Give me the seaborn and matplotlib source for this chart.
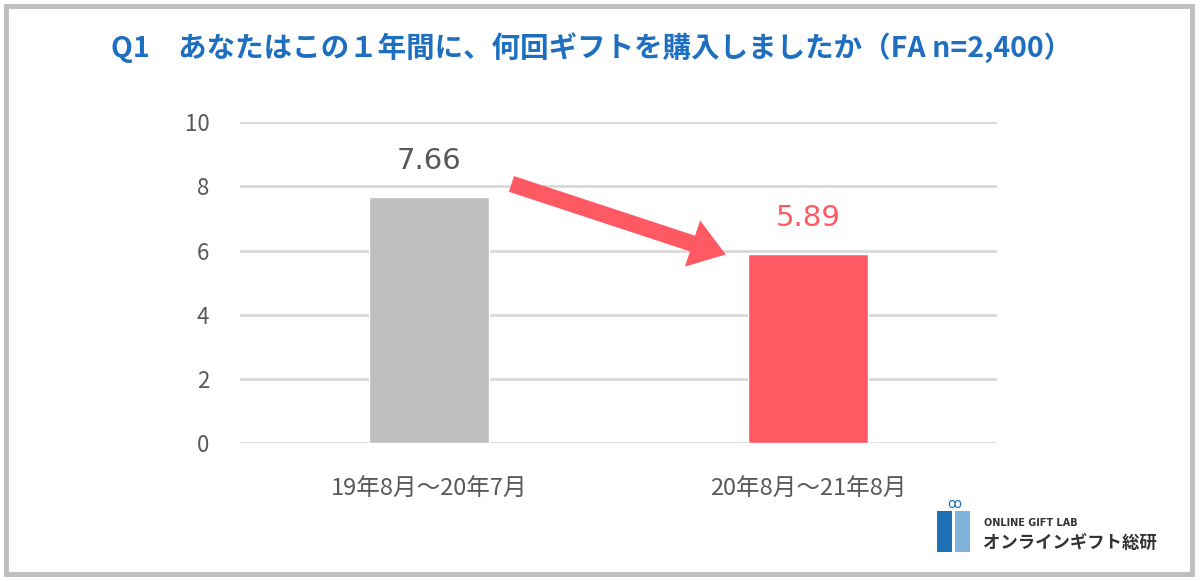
import matplotlib
matplotlib.use("Agg")
import matplotlib.pyplot as plt
import seaborn as sns
import pandas as pd
from matplotlib.patches import Rectangle

categories = ["19年8月～20年7月", "20年8月～21年8月"]
values = [7.66, 5.89]
value_labels = ["7.66", "5.89"]
yticks = [0, 2, 4, 6, 8, 10]
title = "Q1　あなたはこの１年間に、何回ギフトを購入しましたか（FA n=2,400）"

bar_colors = ["#BFBFBF", "#FF5A64"]
label_colors = ["#595959", "#FF5A64"]

sns.set_theme(style="white")
plt.rcParams['font.family'] = ['Noto Sans CJK JP', 'DejaVu Sans']

fig = plt.figure(figsize=(12, 5.81), dpi=100)
ax = fig.add_axes([0.20, 0.237, 0.631, 0.553])

df = pd.DataFrame({"cat": categories, "val": values})
sns.barplot(data=df, x="cat", y="val", hue="cat", palette=bar_colors,
            width=0.318, legend=False, ax=ax, saturation=1, zorder=3)

ax.set_xlim(-0.5, 1.5)
ax.set_ylim(0, 10)
ax.set_yticks(yticks)
ax.set_yticklabels([str(t) for t in yticks])
for t in yticks:
    ax.axhline(t, color="#D9D9D9", lw=2, zorder=1)
for s in ax.spines.values():
    s.set_visible(False)
ax.set_xlabel("")
ax.set_ylabel("")
ax.tick_params(axis="y", length=0, pad=22, labelsize=16, labelcolor="#595959")
ax.tick_params(axis="x", length=0, pad=25, labelsize=17, labelcolor="#595959")

for i, (v, lab) in enumerate(zip(values, value_labels)):
    ax.text(i, v + 0.7, lab, ha="center", va="bottom", fontsize=21,
            color=label_colors[i], family=['DejaVu Sans'])

# arrow from first bar label area to second bar
ax.annotate("", xy=(0.79, 5.85), xytext=(0.21, 8.1),
            arrowprops=dict(arrowstyle="simple,head_length=1.8,head_width=2.5,tail_width=0.85",
                            color="#FF5A64", lw=0, mutation_scale=14), zorder=5)

fig.text(0.493, 0.918, title, ha="center", va="center", fontsize=20.5,
         fontweight="bold", color="#1F6FC0")

# border
fig.patches.append(Rectangle((0.005, 0.012), 0.988, 0.978, transform=fig.transFigure,
                             fill=False, edgecolor="#BEBEBE", lw=3.5))

# logo
fig.patches.append(Rectangle((0.781, 0.05), 0.0125, 0.07, transform=fig.transFigure,
                             facecolor="#1F6FB5", edgecolor="none"))
fig.patches.append(Rectangle((0.7955, 0.05), 0.0125, 0.07, transform=fig.transFigure,
                             facecolor="#7FB3DA", edgecolor="none"))
fig.text(0.795, 0.132, "ꝏ", ha="center", va="center", fontsize=10, color="#1F6FB5",
         family=['DejaVu Sans'])
fig.text(0.82, 0.1, "ONLINE GIFT LAB", ha="left", va="center", fontsize=7,
         fontweight="bold", color="#333333", family=['DejaVu Sans'])
fig.text(0.819, 0.066, "オンラインギフト総研", ha="left", va="center", fontsize=12.5,
         fontweight="bold", color="#333333")

fig.savefig("out.png", dpi=100, facecolor="white")
